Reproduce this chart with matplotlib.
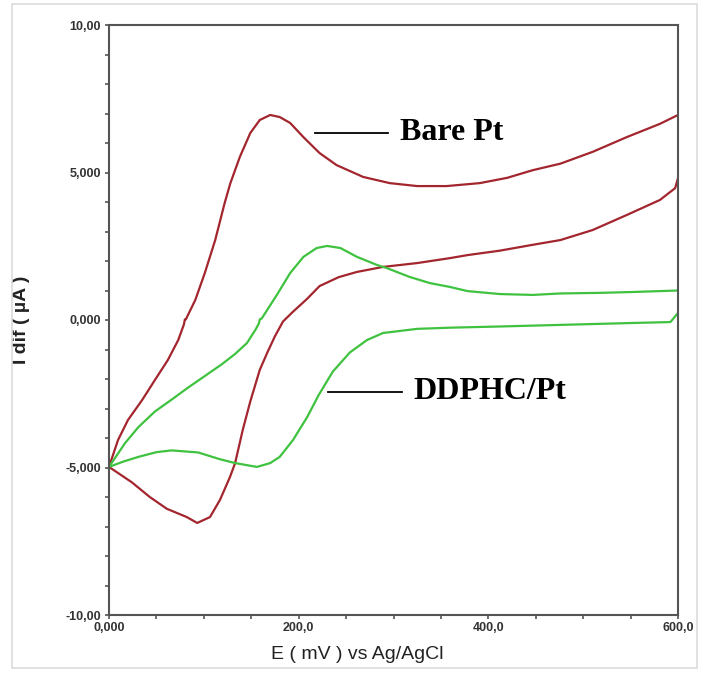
import matplotlib.pyplot as plt
import matplotlib
from matplotlib.patches import Rectangle

matplotlib.rcParams['font.family'] = 'Liberation Sans'

# forward / reverse sweeps (E in mV, I in uA)
red_fwd_x = [0, 9.5, 20, 35, 48.5, 62, 73, 79, 80, 81, 91, 101, 112, 122, 128, 138, 149, 159, 170, 180, 191, 205, 222, 240, 268, 296, 325, 356, 391, 420, 447, 476, 510, 546, 581, 600]
red_fwd_y = [-4.98, -4.07, -3.39, -2.71, -2.03, -1.36, -0.68, -0.15, 0.02, 0.02, 0.68, 1.59, 2.71, 3.97, 4.64, 5.53, 6.34, 6.78, 6.95, 6.88, 6.68, 6.2, 5.66, 5.25, 4.85, 4.64, 4.54, 4.54, 4.64, 4.82, 5.08, 5.3, 5.7, 6.2, 6.65, 6.95]

red_rev_x = [600, 597, 581, 546, 510, 476, 447, 412, 378, 360, 325, 289, 261.5, 242, 222, 209, 194, 183.5, 175, 167, 159, 149, 141, 133, 127.6, 117, 106.5, 93, 82, 61, 43, 24, 0]
red_rev_y = [4.81, 4.47, 4.07, 3.56, 3.05, 2.71, 2.55, 2.35, 2.2, 2.1, 1.93, 1.8, 1.63, 1.45, 1.15, 0.72, 0.28, -0.05, -0.55, -1.1, -1.69, -2.76, -3.73, -4.85, -5.32, -6.1, -6.68, -6.88, -6.68, -6.4, -6.0, -5.5, -4.98]

green_fwd_x = [0, 17, 31, 48.5, 66, 83, 101, 119, 133, 145.5, 155, 158, 159, 161, 177, 191, 205, 219, 230, 244, 261.5, 283, 293, 317, 338.5, 359.6, 378, 412, 447, 476, 518, 553, 600]
green_fwd_y = [-4.98, -4.17, -3.63, -3.1, -2.7, -2.3, -1.9, -1.5, -1.15, -0.78, -0.3, -0.12, 0.02, 0.05, 0.85, 1.59, 2.14, 2.44, 2.51, 2.44, 2.14, 1.86, 1.76, 1.46, 1.25, 1.12, 0.98, 0.88, 0.85, 0.9, 0.92, 0.95, 1.0]

green_rev_x = [600, 592, 553, 483, 412, 360, 325, 289, 272, 254, 236, 221, 209, 194, 180, 170, 156, 133, 117, 94, 66, 50, 31, 15, 0]
green_rev_y = [0.24, -0.07, -0.1, -0.16, -0.22, -0.26, -0.3, -0.44, -0.68, -1.1, -1.75, -2.55, -3.29, -4.07, -4.64, -4.85, -4.98, -4.85, -4.72, -4.49, -4.42, -4.48, -4.64, -4.8, -4.98]

x_ticks = [0, 200, 400, 600]
x_tick_labels = ['0,000', '200,0', '400,0', '600,0']
y_ticks = [-10, -5, 0, 5, 10]
y_tick_labels = ['-10,00', '-5,000', '0,000', '5,000', '10,00']

red = '#a3262e'
green = '#3fc23f'

fig = plt.figure(figsize=(7.01, 6.77), dpi=100)
ax = fig.add_axes([109/701, 1 - 615/677, 569/701, 590/677])

# outer frame of the picture
fig.patches.append(Rectangle((12/701, 1 - 668/677), 685/701, 664/677, transform=fig.transFigure,
                             fill=False, edgecolor='#dcdcdc', linewidth=1.2))

for xs, ys, c in [(red_fwd_x, red_fwd_y, red), (red_rev_x, red_rev_y, red),
                  (green_fwd_x, green_fwd_y, green), (green_rev_x, green_rev_y, green)]:
	ax.plot(xs, ys, color=c, lw=1.6, solid_joinstyle='round')

ax.set_xlim(0, 600)
ax.set_ylim(-10, 10)
ax.set_xticks(x_ticks)
ax.set_xticklabels(x_tick_labels, fontsize=9, fontweight='bold', color='#333333')
ax.set_yticks(y_ticks)
ax.set_yticklabels(y_tick_labels, fontsize=9, fontweight='bold', color='#333333')
ax.set_xticks(range(0, 601, 50), minor=True)
ax.set_yticks(range(-10, 11, 1), minor=True)
ax.tick_params(which='both', direction='out', length=3, width=1.2, color='#555555')
ax.tick_params(axis='x', pad=2)
ax.tick_params(axis='y', pad=3)
for s in ax.spines.values():
	s.set_color('#555555')
	s.set_linewidth(1.5)

ax.set_xlabel('E ( mV ) vs Ag/AgCl', fontsize=14, color='#222222')
ax.xaxis.set_label_coords(0.436, -0.0525)
ax.set_ylabel('I dif ( µA )', fontsize=14, fontweight='bold', color='#222222', va='center')
ax.yaxis.set_label_coords(-0.153, 0.5)

# labels for the two electrodes
ax.plot([217, 294], [6.34, 6.34], color='black', lw=1.3)
ax.text(307, 6.34, 'Bare Pt', family='Liberation Serif', fontweight='bold', fontsize=23, va='center', ha='left')
ax.plot([231, 309], [-2.44, -2.44], color='black', lw=1.3)
ax.text(321, -2.44, 'DDPHC/Pt', family='Liberation Serif', fontweight='bold', fontsize=23, va='center', ha='left')

plt.savefig('out.png', dpi=100)
